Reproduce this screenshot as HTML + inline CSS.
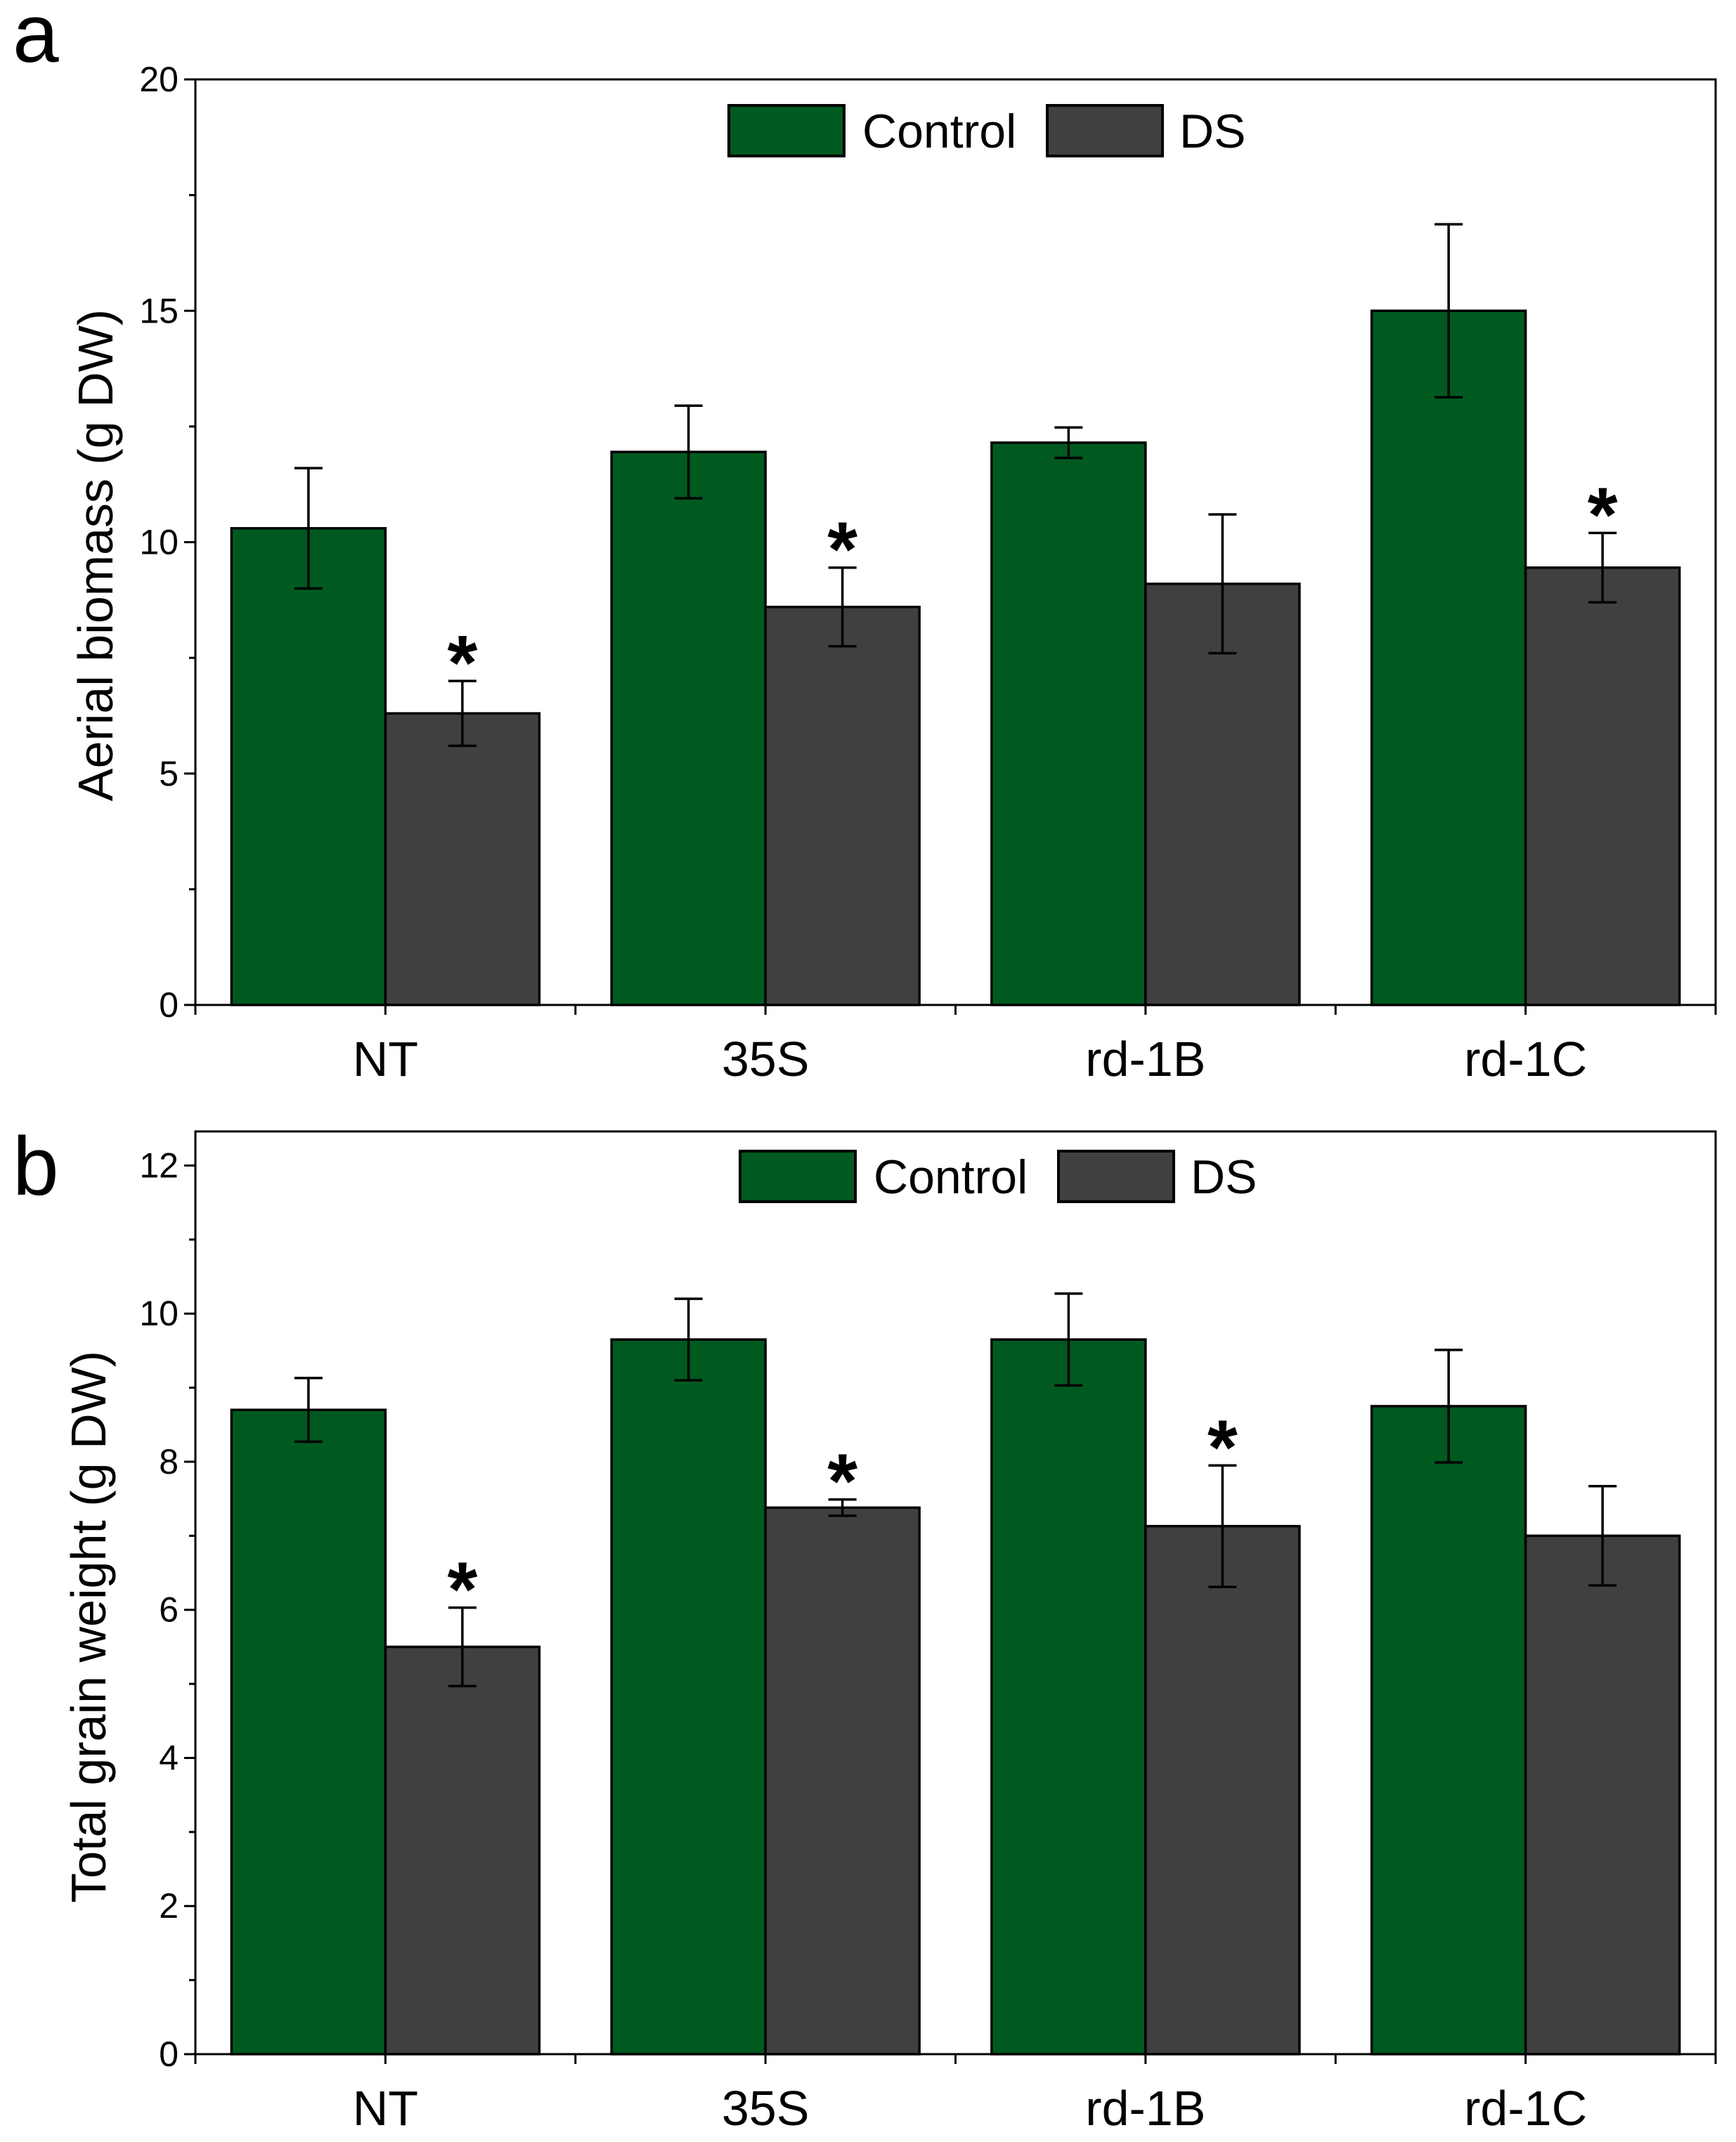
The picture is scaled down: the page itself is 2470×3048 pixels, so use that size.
<!DOCTYPE html>
<html><head><meta charset="utf-8"><style>
html,body{margin:0;padding:0;background:#fff;}
svg{display:block;font-family:"Liberation Sans",Arial,sans-serif;}
</style></head><body>
<svg id="fig" width="2470" height="3048" viewBox="0 0 2470 3048" xmlns="http://www.w3.org/2000/svg">
<text x="18" y="88" font-size="118" fill="#000">a</text>
<text x="18" y="1700" font-size="118" fill="#000">b</text>
</svg>
<script>
const categories = ["NT","35S","rd-1B","rd-1C"];
const aControl = [10.3, 11.95, 12.15, 15.0];
const aControlErr = [1.3, 1.0, 0.33, 1.87];
const aDS = [6.3, 8.6, 9.1, 9.45];
const aDSErr = [0.7, 0.85, 1.5, 0.75];
const aStars = [true, true, false, true];
const aTicks = [0, 5, 10, 15, 20];
const bControl = [8.7, 9.65, 9.65, 8.75];
const bControlErr = [0.43, 0.55, 0.62, 0.76];
const bDS = [5.5, 7.38, 7.13, 7.0];
const bDSErr = [0.53, 0.11, 0.82, 0.67];
const bStars = [true, true, true, false];
const bTicks = [0, 2, 4, 6, 8, 10, 12];

const NS = "http://www.w3.org/2000/svg";
const svg = document.getElementById("fig");
function mk(tag, attrs, parent, txt){
  const e = document.createElementNS(NS, tag);
  for (const k in attrs) e.setAttribute(k, attrs[k]);
  if (txt !== undefined) e.textContent = txt;
  (parent||svg).appendChild(e);
  return e;
}
const GREEN = "#005a20", GRAY = "#404040";

function panel(id, cfg){
  const g = mk("g", {});
  
  
  const xL = 278, xR = 2441, yT = cfg.yT, y0 = cfg.y0, ymax = cfg.ymax;
  const y = v => y0 - (v / ymax) * (y0 - yT);
  const gw = (xR - xL) / categories.length;
  const bw = gw * 0.405;
  const cx = i => xL + gw * (i + 0.5);
  function drawBar(i, v, err, color, left, name){
    const x = left ? cx(i) - bw : cx(i);
    const r = mk("rect", {x: x, y: y(v), width: bw, height: y0 - y(v), fill: color, stroke: "#000", "stroke-width": 3.5}, g);
    
    
    const ex = x + bw / 2;
    const e = mk("path", {d: `M${ex},${y(v+err)}V${y(v-err)}M${ex-20},${y(v+err)}H${ex+20}M${ex-20},${y(v-err)}H${ex+20}`, stroke: "#000", "stroke-width": 3.5, fill: "none"}, g);
    
    
    return {ex: ex, top: y(v + err)};
  }
  for (let i = 0; i < categories.length; i++){
    drawBar(i, cfg.ctrl[i], cfg.ctrlErr[i], GREEN, true, 'control');
    const d = drawBar(i, cfg.ds[i], cfg.dsErr[i], GRAY, false, 'ds');
    if (cfg.stars[i]){
      const s = mk("text", {x: d.ex, y: d.top + 12, "font-size": 110, "font-weight": "bold", "text-anchor": "middle", fill: "#000"}, g, "*");
      
      
    }
    const lbl = mk("text", {x: cx(i), y: cfg.catY, "font-size": 70, "text-anchor": "middle", fill: "#000"}, g, categories[i]);
    
    
  }
  const fr = mk("rect", {x: xL, y: yT, width: xR - xL, height: y0 - yT, fill: "none", stroke: "#000", "stroke-width": 3}, g);
  
  
  let tp = "";
  cfg.ticks.forEach(t => { tp += `M${xL-16},${y(t)}H${xL}`; });
  for (let v = 0; v <= ymax + 1e-9; v += cfg.minor) tp += `M${xL-9},${y(v)}H${xL}`;
  for (let i = 0; i <= categories.length; i++){
    tp += `M${xL + gw*i},${y0}V${y0+14}`;
    if (i < categories.length) tp += `M${cx(i)},${y0}V${y0+14}`;
  }
  const tk = mk("path", {d: tp, stroke: "#000", "stroke-width": 3, fill: "none"}, g);
  
  
  cfg.ticks.forEach(t => {
    const tl = mk("text", {x: xL - 24, y: y(t) + 17, "font-size": 50, "text-anchor": "end", fill: "#000"}, g, String(t));
    
    
  });
  const yt = mk("text", {x: 0, y: 0, "font-size": 70, "text-anchor": "middle", fill: "#000", transform: `translate(${cfg.titleX},${cfg.titleY}) rotate(-90)`}, g, cfg.title);
  
  
  const lg = mk("g", {}, g);
  
  
  const lx = cfg.legX, ly = cfg.legY;
  const s1 = mk("rect", {x: lx, y: ly, width: 164, height: 72, fill: GREEN, stroke: "#000", "stroke-width": 4}, lg);
  
  
  const t1 = mk("text", {x: lx + 190, y: ly + 60, "font-size": 68, fill: "#000"}, lg, "Control");
  
  
  const s2 = mk("rect", {x: lx + 453, y: ly, width: 164, height: 72, fill: GRAY, stroke: "#000", "stroke-width": 4}, lg);
  
  
  const t2 = mk("text", {x: lx + 641, y: ly + 60, "font-size": 68, fill: "#000"}, lg, "DS");
  
  
}
panel('aerial-biomass', {yT: 113, y0: 1430, ymax: 20, ticks: aTicks, minor: 2.5,
  ctrl: aControl, ctrlErr: aControlErr, ds: aDS, dsErr: aDSErr, stars: aStars,
  catY: 1531, title: "Aerial biomass (g DW)", titleX: 160, titleY: 790, legX: 1037, legY: 150});
panel('total-grain-weight', {yT: 1610, y0: 2923, ymax: 12.46, ticks: bTicks, minor: 1,
  ctrl: bControl, ctrlErr: bControlErr, ds: bDS, dsErr: bDSErr, stars: bStars,
  catY: 3024, title: "Total grain weight (g DW)", titleX: 150, titleY: 2315, legX: 1053, legY: 1638});
</script>
</body></html>
